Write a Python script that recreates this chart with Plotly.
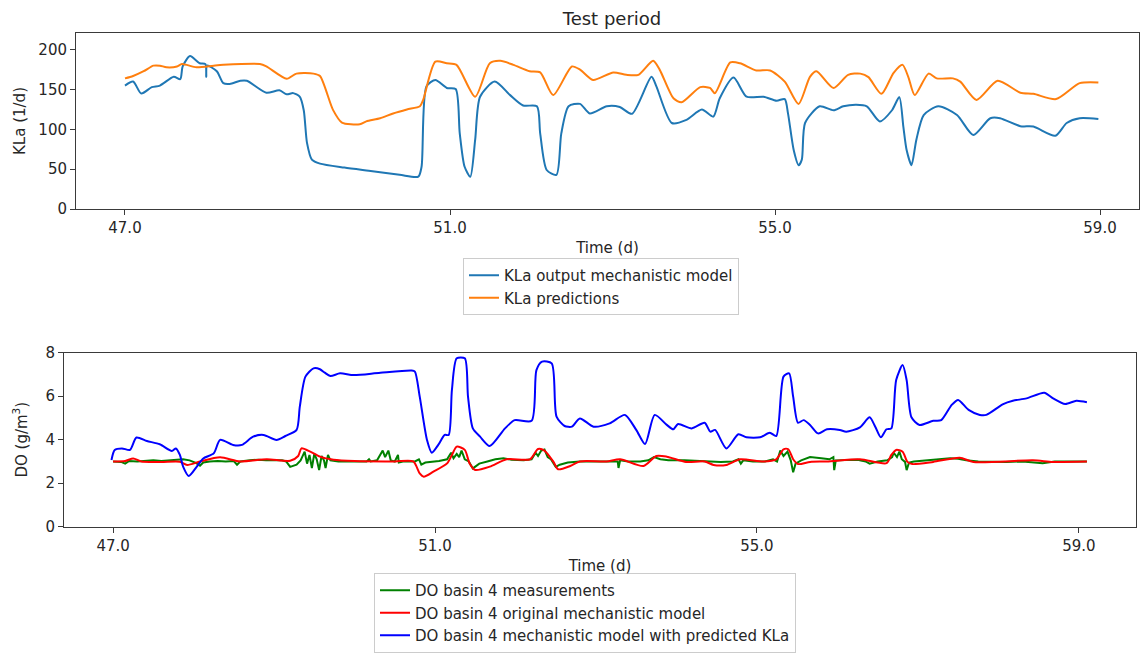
import plotly.graph_objects as go

# ---------------- KLa (top panel) ----------------
kla_mech_t = [47.0, 47.1, 47.2, 47.33, 47.43, 47.6, 47.68, 47.71, 47.8, 47.92, 47.99, 48.0, 48.01,
              48.13, 48.21, 48.29, 48.42, 48.5, 48.74, 48.9, 48.99, 49.07, 49.15, 49.2, 49.24, 49.3,
              49.4, 49.7, 50.0, 50.38, 50.61, 50.65, 50.71, 50.82, 50.96, 51.07, 51.12, 51.18, 51.25,
              51.31, 51.37, 51.55, 51.74, 51.9, 52.07, 52.11, 52.19, 52.31, 52.37, 52.46, 52.6, 52.72,
              52.93, 53.09, 53.24, 53.48, 53.54, 53.73, 53.91, 54.1, 54.24, 54.32, 54.49, 54.65,
              54.86, 55.02, 55.12, 55.16, 55.23, 55.29, 55.33, 55.37, 55.55, 55.72, 55.84, 56.0,
              56.13, 56.29, 56.44, 56.53, 56.58, 56.62, 56.68, 56.74, 56.83, 57.01, 57.24, 57.44,
              57.65, 57.77, 58.02, 58.18, 58.45, 58.59, 58.75, 58.98]
kla_mech_v = [155, 160, 145, 153, 155, 166, 163, 179, 192, 183, 182, 166, 180,
              173, 158, 157, 161, 161, 146, 149, 144, 145.5, 141, 124, 83, 62,
              57, 52, 48, 43, 40.6, 53, 154, 162, 152, 150.6, 95, 53, 40.6,
              87, 141, 160, 143, 130, 129, 95, 49, 43, 95, 129, 132, 120,
              129, 128, 119.5, 166, 154, 108, 112, 125, 116, 139, 165, 141,
              141, 136, 138, 120, 74, 55, 62, 108, 129, 124, 129, 131,
              129, 110, 124, 140.5, 103, 74, 55, 87, 118, 129, 118, 93,
              114, 114, 104, 103.5, 92, 108, 114, 113]

kla_pred_t = [47.0, 47.1, 47.23, 47.35, 47.43, 47.51, 47.64, 47.7, 47.88, 48.09, 48.21, 48.66,
              48.74, 48.99, 49.11, 49.32, 49.4, 49.56, 49.67, 49.89, 49.97, 50.14, 50.3, 50.47,
              50.63, 50.67, 50.82, 50.96, 51.08, 51.31, 51.49, 51.62, 51.78, 51.98, 52.11, 52.27,
              52.5, 52.6, 52.76, 53.01, 53.17, 53.32, 53.5, 53.58, 53.75, 53.85, 54.08, 54.2,
              54.26, 54.45, 54.57, 54.77, 54.94, 55.12, 55.29, 55.43, 55.51, 55.72, 55.9, 56.05,
              56.15, 56.31, 56.46, 56.57, 56.64, 56.72, 56.89, 56.99, 57.19, 57.28, 57.48, 57.74,
              58.02, 58.18, 58.46, 58.75, 58.98]
kla_pred_v = [164, 167, 173, 180, 180, 178, 179, 182, 178, 180, 181, 182,
              179, 163.5, 170, 170, 167, 124.5, 108.5, 106.5, 110, 114, 120, 125,
              129, 137, 185, 183, 181, 141, 183, 186, 181, 173, 171.5, 143,
              179, 175, 162, 171.5, 168.5, 168.5, 186, 175, 139, 134, 153, 152,
              145.5, 184, 183, 174, 174, 160, 132, 166, 173, 152, 168.5, 170,
              165.6, 144.6, 171, 181, 166, 143, 170, 164, 164, 160, 137, 161,
              146, 144.6, 138, 158, 159]

# ---------------- DO (bottom panel) ----------------
do_meas_t = [47.0, 47.1, 47.15, 47.2, 47.3, 47.4, 47.5, 47.6, 47.7, 47.8, 47.87, 47.95, 48.02,
             48.08, 48.12, 48.2, 48.3, 48.4, 48.5, 48.54, 48.58, 48.7, 48.8, 48.9, 49.0, 49.1,
             49.15, 49.2, 49.28, 49.33, 49.38, 49.41, 49.44, 49.47, 49.5, 49.53, 49.56, 49.59,
             49.62, 49.64, 49.67, 49.7, 49.8, 50.0, 50.15, 50.18, 50.2, 50.28, 50.32, 50.35,
             50.38, 50.42, 50.45, 50.5, 50.54, 50.55, 50.6, 50.75, 50.8, 50.83, 50.88, 50.95,
             51.05, 51.15, 51.2, 51.23, 51.27, 51.3, 51.33, 51.37, 51.42, 51.47, 51.55, 51.65,
             51.75, 51.85, 51.95, 52.1, 52.2, 52.25, 52.28, 52.32, 52.36, 52.4, 52.44, 52.5,
             52.55, 52.65, 52.8, 53.0, 53.2, 53.27, 53.28, 53.3, 53.4, 53.55, 53.65, 53.72,
             53.8, 53.9, 54.1, 54.3, 54.45, 54.55, 54.7, 54.77, 54.8, 54.83, 54.95, 55.1, 55.2,
             55.25, 55.29, 55.33, 55.38, 55.42, 55.45, 55.48, 55.55, 55.66, 55.8, 55.9, 55.95,
             55.96, 55.98, 56.1, 56.25, 56.35, 56.4, 56.5, 56.62, 56.68, 56.7, 56.74, 56.77,
             56.8, 56.84, 56.86, 56.89, 56.95, 57.1, 57.25, 57.4, 57.5, 57.6, 57.75, 57.9,
             58.1, 58.3, 58.45, 58.55, 58.7, 58.9, 59.1]
do_meas_v = [3.00, 2.98, 2.90, 3.02, 3.00, 3.03, 3.05, 3.02, 3.06, 3.08, 3.10, 3.05, 2.95,
             2.80, 2.95, 3.00, 3.02, 3.00, 3.02, 2.85, 3.00, 3.05, 3.08, 3.06, 3.04, 3.05,
             3.00, 2.75, 2.85, 3.05, 3.45, 2.90, 3.30, 2.70, 3.35, 3.10, 2.60, 3.25,
             3.05, 2.70, 3.30, 3.05, 3.00, 2.99, 3.00, 3.10, 3.00, 3.05, 3.30, 3.50,
             3.20, 3.50, 3.05, 3.00, 3.30, 2.95, 3.00, 3.00, 3.10, 2.85, 2.95, 2.98,
             3.02, 3.10, 3.40, 3.15, 3.35, 3.20, 3.50, 3.10, 3.00, 2.68, 2.90, 3.00,
             3.10, 3.15, 3.08, 3.05, 3.10, 3.40, 3.25, 3.50, 3.55, 3.20, 3.10, 2.75,
             2.85, 2.95, 3.00, 3.00, 3.02, 3.00, 2.70, 3.05, 3.00, 3.00, 3.05, 3.20,
             3.10, 3.05, 3.05, 3.02, 3.00, 2.98, 3.00, 3.10, 2.90, 3.05, 3.00, 3.00, 3.10,
             3.00, 3.50, 3.25, 3.45, 3.05, 2.50, 2.90, 3.05, 3.20, 3.15, 3.10, 3.20,
             2.60, 3.05, 3.05, 3.08, 3.00, 2.90, 3.00, 3.05, 3.20, 3.40, 3.20, 3.45,
             3.10, 2.98, 2.60, 2.95, 3.00, 3.05, 3.12, 3.15, 3.12, 3.05, 3.00, 2.98,
             2.98, 3.00, 2.95, 2.92, 3.00, 3.00, 3.00]

do_orig_t = [47.0, 47.15, 47.25, 47.35, 47.6, 47.83, 47.92, 48.08, 48.33, 48.58, 48.91, 49.2,
             49.3, 49.34, 49.45, 49.57, 49.74, 50.0, 50.5, 50.73, 50.81, 50.86, 50.98, 51.15,
             51.21, 51.27, 51.37, 51.43, 51.5, 51.68, 51.89, 52.18, 52.28, 52.36, 52.47, 52.53,
             52.68, 52.8, 53.13, 53.3, 53.59, 53.75, 53.88, 54.12, 54.35, 54.46, 54.62, 54.79,
             55.08, 55.24, 55.33, 55.39, 55.45, 55.51, 55.66, 55.87, 56.28, 56.61, 56.67, 56.73,
             56.81, 56.87, 56.93, 57.19, 57.52, 57.69, 58.43, 58.68, 59.1]
do_orig_v = [3.0, 3.02, 3.14, 3.0, 2.98, 2.99, 2.84, 3.0, 3.19, 3.0, 3.1, 3.03,
             3.25, 3.6, 3.45, 3.22, 3.08, 3.02, 3.0, 3.0, 2.45, 2.3, 2.53, 2.91,
             3.3, 3.68, 3.53, 2.91, 2.61, 2.76, 3.1, 3.1, 3.57, 3.5, 2.99, 2.64,
             2.79, 3.0, 3.0, 3.1, 2.79, 3.25, 3.22, 2.98, 3.0, 2.84, 2.84, 3.1,
             3.0, 3.1, 3.56, 3.56, 3.1, 2.88, 2.98, 3.0, 3.1, 2.92, 3.3, 3.53,
             3.45, 2.98, 2.88, 2.98, 3.17, 2.98, 3.05, 2.98, 3.0]

do_pred_t = [46.98, 47.02, 47.11, 47.21, 47.29, 47.42, 47.58, 47.73, 47.78, 47.83, 47.87, 47.94,
             48.04, 48.12, 48.25, 48.33, 48.49, 48.6, 48.74, 48.87, 49.03, 49.14, 49.28, 49.32,
             49.39, 49.49, 49.57, 49.63, 49.7, 49.82, 49.99, 50.32, 50.71, 50.75, 50.81, 50.9,
             50.96, 51.04, 51.12, 51.17, 51.21, 51.27, 51.37, 51.41, 51.47, 51.56, 51.68, 51.87,
             51.99, 52.2, 52.26, 52.33, 52.45, 52.51, 52.61, 52.7, 52.8, 52.97, 53.17, 53.36,
             53.5, 53.61, 53.73, 53.88, 53.96, 54.02, 54.19, 54.35, 54.42, 54.48, 54.62, 54.77,
             54.87, 55.04, 55.16, 55.24, 55.33, 55.4, 55.45, 55.51, 55.58, 55.66, 55.76, 55.87,
             56.03, 56.11, 56.28, 56.4, 56.47, 56.54, 56.61, 56.67, 56.73, 56.81, 56.86, 56.92,
             57.02, 57.19, 57.29, 57.42, 57.5, 57.63, 57.77, 57.85, 58.06, 58.18, 58.35, 58.57,
             58.68, 58.83, 58.97, 59.1]
do_pred_v = [3.07, 3.53, 3.6, 3.53, 4.1, 3.94, 3.79, 3.48, 3.6, 3.3, 2.76, 2.33,
             2.76, 3.14, 3.37, 3.99, 3.76, 3.76, 4.14, 4.22, 3.99, 4.17, 4.45, 5.52,
             6.9, 7.28, 7.24, 7.08, 6.93, 7.05, 6.97, 7.08, 7.18, 7.13, 5.98, 3.99,
             3.4, 3.76, 4.22, 4.22, 6.29, 7.74, 7.74, 5.98, 4.52, 4.14, 3.71, 4.52,
             4.9, 4.87, 7.2, 7.59, 7.51, 5.06, 4.63, 4.6, 4.98, 4.6, 4.75, 5.14,
             4.45, 3.8, 5.14, 4.68, 4.48, 4.72, 4.52, 4.78, 4.37, 4.45, 3.6, 4.25,
             4.11, 4.11, 4.32, 4.17, 6.9, 7.05, 5.98, 4.78, 4.9, 4.68, 4.29, 4.48,
             4.45, 4.37, 4.57, 5.03, 4.6, 4.11, 4.48, 4.52, 6.74, 7.43, 6.74, 5.03,
             4.68, 4.87, 4.9, 5.6, 5.83, 5.37, 5.14, 5.14, 5.64, 5.79, 5.9, 6.16,
             5.9, 5.64, 5.79, 5.72]

x_tick_vals = [47.0, 51.0, 55.0, 59.0]
x_tick_text = ["47.0", "51.0", "55.0", "59.0"]

FONT = "DejaVu Sans"
TXT = "#262626"

fig = go.Figure()

smooth = dict(shape="spline", smoothing=0.7, width=2)

fig.add_trace(go.Scatter(x=kla_mech_t, y=kla_mech_v, mode="lines",
                         name="KLa output mechanistic model",
                         line=dict(color="#1f77b4", **smooth),
                         xaxis="x", yaxis="y", legend="legend"))
fig.add_trace(go.Scatter(x=kla_pred_t, y=kla_pred_v, mode="lines",
                         name="KLa predictions",
                         line=dict(color="#ff7f0e", **smooth),
                         xaxis="x", yaxis="y", legend="legend"))

fig.add_trace(go.Scatter(x=do_meas_t, y=do_meas_v, mode="lines",
                         name="DO basin 4 measurements",
                         line=dict(color="#008000", width=2),
                         xaxis="x2", yaxis="y2", legend="legend2"))
fig.add_trace(go.Scatter(x=do_orig_t, y=do_orig_v, mode="lines",
                         name="DO basin 4 original mechanistic model",
                         line=dict(color="#ff0000", **smooth),
                         xaxis="x2", yaxis="y2", legend="legend2"))
fig.add_trace(go.Scatter(x=do_pred_t, y=do_pred_v, mode="lines",
                         name="DO basin 4 mechanistic model with predicted KLa",
                         line=dict(color="#0000ff", **smooth),
                         xaxis="x2", yaxis="y2", legend="legend2"))

W, H = 1140, 653


def px_x(p):
    return p / W


def px_y(p):
    return 1 - p / H


axis_common = dict(showline=True, linecolor="#3a3a3a", linewidth=1, mirror=True,
                   ticks="outside", ticklen=5, tickwidth=1, tickcolor="#3a3a3a",
                   showgrid=False, zeroline=False, automargin=False,
                   tickfont=dict(family=FONT, size=15, color=TXT))

legend_common = dict(bgcolor="rgba(255,255,255,0.8)", bordercolor="#cccccc", borderwidth=1,
                     font=dict(family=FONT, size=15, color=TXT),
                     xanchor="left", tracegroupgap=0)

fig.update_layout(
    width=W, height=H,
    margin=dict(l=0, r=0, t=0, b=0, autoexpand=False),
    paper_bgcolor="white", plot_bgcolor="white",
    font=dict(family=FONT, size=15, color=TXT),
    title=dict(text="Test period", x=px_x(612), y=px_y(19), xanchor="center", yanchor="middle",
               font=dict(family=FONT, size=18, color=TXT)),
    xaxis=dict(domain=[px_x(76), px_x(1139)], range=[46.397, 59.48], anchor="y",
               tickvals=x_tick_vals, ticktext=x_tick_text,
               title=dict(text="Time (d)", standoff=6, font=dict(family=FONT, size=15, color=TXT)),
               **axis_common),
    yaxis=dict(domain=[px_y(209), px_y(33)], range=[0, 221], anchor="x",
               tickvals=[0, 50, 100, 150, 200],
               title=dict(text="KLa (1/d)", standoff=9, font=dict(family=FONT, size=15, color=TXT)),
               **axis_common),
    xaxis2=dict(domain=[px_x(64), px_x(1136)], range=[46.39, 59.71], anchor="y2",
                tickvals=x_tick_vals, ticktext=x_tick_text,
                title=dict(text="Time (d)", standoff=6, font=dict(family=FONT, size=15, color=TXT)),
                **axis_common),
    yaxis2=dict(domain=[px_y(526.7), px_y(352.7)], range=[0, 8], anchor="x2",
                tickvals=[0, 2, 4, 6, 8],
                title=dict(text="DO (g/m<sup>3</sup>)", standoff=14,
                           font=dict(family=FONT, size=15, color=TXT)),
                **axis_common),
    legend=dict(x=px_x(463), y=px_y(258), yanchor="top", **legend_common),
    legend2=dict(x=px_x(374), y=0, yanchor="bottom", **legend_common),
)

fig.write_html("out.html")
